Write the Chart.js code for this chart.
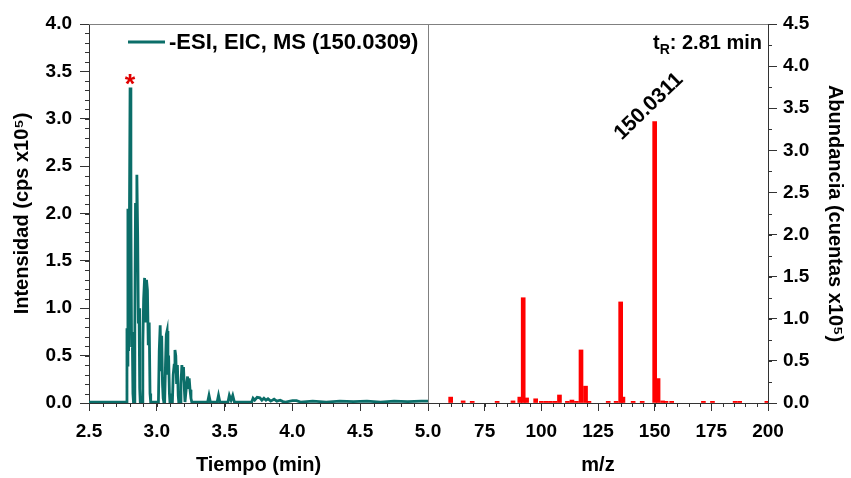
<!DOCTYPE html>
<html>
<head>
<meta charset="utf-8">
<script src="https://cdn.jsdelivr.net/npm/chart.js@4.4.0/dist/chart.umd.min.js"></script>
<style>
  html, body { margin: 0; padding: 0; background: #fff; }
  #wrap { position: relative; width: 851px; height: 478px; }
  #wrap canvas { position: absolute; left: 0; top: 0; }
</style>
</head>
<body>
<div id="wrap">
  <canvas id="ticChart" width="851" height="478"></canvas>
  <canvas id="msChart" width="851" height="478"></canvas>
</div>
<script>
// chromatogram (EIC) - retention time (min) vs intensity (cps x10^5)
const rtTime = [
  2.500, 2.600, 2.700, 2.776, 2.780, 2.784, 2.787, 2.792, 2.797, 2.803, 2.809, 2.814, 2.819, 2.824, 2.828,
  2.834, 2.838, 2.843, 2.848, 2.853, 2.859, 2.864, 2.869, 2.874, 2.878,
  2.892, 2.897, 2.903, 2.910, 2.918, 2.924, 2.931, 2.937, 2.944, 2.950, 2.955,
  3.012, 3.018, 3.025, 3.031, 3.036, 3.042, 3.047, 3.052,
  3.058, 3.064, 3.070, 3.076, 3.082, 3.087, 3.093, 3.097,
  3.115, 3.121, 3.128, 3.134, 3.140, 3.146, 3.152, 3.158, 3.162,
  3.172, 3.178, 3.185, 3.191, 3.197, 3.203, 3.208,
  3.214, 3.220, 3.227, 3.233, 3.239, 3.245, 3.252, 3.258,
  3.300, 3.375, 3.385, 3.395, 3.445, 3.455, 3.465, 3.525, 3.535, 3.548, 3.560, 3.572,
  3.700, 3.710, 3.722, 3.740, 3.760, 3.775, 3.790, 3.805, 3.820, 3.840, 3.865, 3.885, 3.910, 3.930, 3.950,
  4.000, 4.030, 4.060, 4.150, 4.250, 4.350, 4.450, 4.550, 4.650, 4.750, 4.850, 4.950, 5.000
];
const rtIntensity = [
  0.010, 0.008, 0.010, 0.010, 0.790, 0.400, 2.050, 0.550, 1.600, 3.330, 1.970, 0.590, 0.750, 0.100, 0.010,
  0.010, 0.800, 2.110, 1.500, 2.410, 1.760, 0.840, 1.000, 0.150, 0.010,
  0.010, 0.630, 1.100, 1.320, 0.850, 1.300, 1.190, 0.610, 0.850, 0.100, 0.010,
  0.010, 0.550, 0.820, 0.350, 0.710, 0.200, 0.050, 0.010,
  0.010, 0.400, 0.720, 0.760, 0.300, 0.500, 0.100, 0.010,
  0.010, 0.300, 0.400, 0.560, 0.500, 0.200, 0.400, 0.080, 0.010,
  0.010, 0.200, 0.400, 0.300, 0.380, 0.150, 0.010,
  0.010, 0.200, 0.280, 0.150, 0.260, 0.140, 0.050, 0.010,
  0.010, 0.010, 0.080, 0.010, 0.010, 0.080, 0.010, 0.010, 0.080, 0.030, 0.080, 0.010,
  0.010, 0.050, 0.030, 0.060, 0.055, 0.030, 0.050, 0.030, 0.045, 0.020, 0.040, 0.020, 0.030, 0.015, 0.010,
  0.025, 0.025, 0.010, 0.020, 0.010, 0.020, 0.015, 0.020, 0.010, 0.020, 0.015, 0.020, 0.020
];

// mass spectrum at tR - m/z vs abundance (counts x10^5)
const mzValues = [
  60, 65.5, 69.5, 80.5, 87.5, 90.5, 92, 93.5, 97.5, 100, 102, 104, 106, 108,
  111.5, 113.5, 115.5, 117.5, 119.5, 121, 129.5, 133, 135, 136, 140.5, 144.5,
  150, 151.5, 153.5, 155, 157.5, 171.5, 175.5, 185.5, 187.5, 199.5
];
const mzAbundance = [
  0.07, 0.025, 0.02, 0.02, 0.025, 0.07, 1.25, 0.06, 0.05, 0.02, 0.02, 0.02, 0.02, 0.095,
  0.02, 0.035, 0.02, 0.63, 0.20, 0.02, 0.02, 0.02, 1.20, 0.07, 0.02, 0.02,
  3.34, 0.29, 0.025, 0.02, 0.02, 0.02, 0.02, 0.02, 0.02, 0.02
];

const timeTicks = [2.5, 3.0, 3.5, 4.0, 4.5, 5.0];
const intensityTicks = [0, 0.5, 1.0, 1.5, 2.0, 2.5, 3.0, 3.5, 4.0];
const mzTicks = [50, 75, 100, 125, 150, 175, 200];
const abundanceTicks = [0, 0.5, 1.0, 1.5, 2.0, 2.5, 3.0, 3.5, 4.0, 4.5];

const FONT = '"Liberation Sans", Arial, sans-serif';
const TEAL = '#0b6e69';
const RED = '#ff0000';
const AXIS = '#333333';

function fixedTicks(list) {
  return function (scale) {
    scale.ticks = list.map(v => ({ value: v }));
  };
}

// minor tick marks drawn through the scales
const minorTicks = {
  id: 'minorTicks',
  afterDraw(chart, args, opts) {
    const ctx = chart.ctx;
    ctx.save();
    ctx.strokeStyle = AXIS;
    ctx.lineWidth = 1;
    (opts.list || []).forEach(m => {
      const s = chart.scales[m.axis];
      const n = Math.round((s.max - s.min) / m.step);
      for (let i = 0; i <= n; i++) {
        const v = s.min + i * m.step;
        const p = Math.round(s.getPixelForValue(v)) + 0.5;
        ctx.beginPath();
        if (s.position === 'bottom') {
          ctx.moveTo(p, s.top); ctx.lineTo(p, s.top + 4);
        } else if (s.position === 'left') {
          ctx.moveTo(s.right, p); ctx.lineTo(s.right - 4, p);
        } else {
          ctx.moveTo(s.left, p); ctx.lineTo(s.left + 4, p);
        }
        ctx.stroke();
      }
    });
    ctx.restore();
  }
};

// top border + divider between the two panels
const frame = {
  id: 'frame',
  afterDraw(chart, args, opts) {
    const a = chart.chartArea;
    const ctx = chart.ctx;
    ctx.save();
    ctx.strokeStyle = '#808080';
    ctx.lineWidth = 1;
    ctx.beginPath();
    ctx.moveTo(a.left, a.top + 0.5);
    ctx.lineTo(a.right, a.top + 0.5);
    if (opts.divider) {
      ctx.moveTo(a.left + 0.5, a.top);
      ctx.lineTo(a.left + 0.5, a.bottom);
    }
    ctx.stroke();
    ctx.restore();
  }
};

// asterisk over the main peak + legend inside the plot
const ticMarks = {
  id: 'ticMarks',
  afterDatasetsDraw(chart) {
    const i = rtIntensity.indexOf(Math.max(...rtIntensity));
    const x = chart.scales.x.getPixelForValue(rtTime[i]);
    const y = chart.scales.y.getPixelForValue(rtIntensity[i]);
    const a = chart.chartArea;
    const ds = chart.data.datasets[0];
    const ctx = chart.ctx;
    ctx.save();
    ctx.fillStyle = '#e00000';
    ctx.font = 'bold 27px ' + FONT;
    ctx.textAlign = 'center';
    ctx.textBaseline = 'alphabetic';
    ctx.fillText('*', x, y + 6);

    const ly = a.top + 18;
    ctx.strokeStyle = ds.borderColor;
    ctx.lineWidth = ds.borderWidth;
    ctx.beginPath();
    ctx.moveTo(a.left + 39, ly);
    ctx.lineTo(a.left + 76, ly);
    ctx.stroke();
    ctx.fillStyle = '#000';
    ctx.font = 'bold 22px ' + FONT;
    ctx.textAlign = 'left';
    ctx.textBaseline = 'middle';
    ctx.fillText(ds.label, a.left + 80, ly + 1);
    ctx.restore();
  }
};

const msLabels = {
  id: 'msLabels',
  afterDatasetsDraw(chart) {
    const ctx = chart.ctx;
    const a = chart.chartArea;
    ctx.save();
    ctx.fillStyle = '#000';
    // retention time label
    const big = 'bold 20px ' + FONT;
    const small = 'bold 14px ' + FONT;
    const rest = ': 2.81 min';
    ctx.font = big;
    const wT = ctx.measureText('t').width;
    const wRest = ctx.measureText(rest).width;
    ctx.font = small;
    const wR = ctx.measureText('R').width;
    let x = a.right - 6 - (wT + wR + wRest);
    const base = a.top + 25;
    ctx.textBaseline = 'alphabetic';
    ctx.textAlign = 'left';
    ctx.font = big;
    ctx.fillText('t', x, base);
    ctx.font = small;
    ctx.fillText('R', x + wT, base + 5);
    ctx.font = big;
    ctx.fillText(rest, x + wT + wR, base);
    // base peak label
    const i = mzAbundance.indexOf(Math.max(...mzAbundance));
    const px = chart.scales.x.getPixelForValue(mzValues[i]);
    const py = chart.scales.y.getPixelForValue(mzAbundance[i]);
    ctx.translate(px - 33, py + 19);
    ctx.rotate(-44 * Math.PI / 180);
    ctx.font = 'bold 21px ' + FONT;
    ctx.fillText('150.0311', 0, 0);
    ctx.restore();
  }
};

const tickFont = { family: FONT, size: 19, weight: 'bold' };
const titleFont = { family: FONT, size: 20, weight: 'bold' };

new Chart(document.getElementById('ticChart'), {
  type: 'line',
  data: {
    datasets: [{
      label: '-ESI, EIC, MS (150.0309)',
      data: rtTime.map((t, i) => ({ x: t, y: rtIntensity[i] })),
      borderColor: TEAL,
      backgroundColor: TEAL,
      borderWidth: 2.8,
      pointRadius: 0,
      tension: 0,
      fill: false
    }]
  },
  options: {
    responsive: false,
    animation: false,
    layout: { padding: { top: 24, right: 423, left: 0, bottom: 0 } },
    scales: {
      x: {
        type: 'linear', position: 'bottom', min: 2.5, max: 5.0,
        afterBuildTicks: fixedTicks(timeTicks),
        afterFit: s => { s.height = 75; },
        ticks: { callback: v => v.toFixed(1), font: tickFont, color: '#000', padding: 9, maxRotation: 0, autoSkip: false },
        grid: { drawOnChartArea: false, tickLength: 8, tickColor: AXIS },
        border: { color: AXIS, width: 1 },
        title: { display: true, text: 'Tiempo (min)', font: titleFont, color: '#000', padding: { top: 0, bottom: 1 } }
      },
      y: {
        type: 'linear', position: 'left', min: 0, max: 4.0,
        afterBuildTicks: fixedTicks(intensityTicks),
        afterFit: s => { s.width = 89; },
        ticks: { callback: v => v.toFixed(1), font: tickFont, color: '#000', padding: 8 },
        grid: { drawOnChartArea: false, tickLength: 9, tickColor: AXIS },
        border: { color: AXIS, width: 1 },
        title: { display: true, text: 'Intensidad (cps x10⁵)', font: titleFont, color: '#000', padding: { top: 10, bottom: 0 } }
      }
    },
    plugins: {
      legend: { display: false },
      tooltip: { enabled: false },
      minorTicks: { list: [{ axis: 'x', step: 0.1 }, { axis: 'y', step: 0.1 }] },
      frame: { divider: false }
    }
  },
  plugins: [minorTicks, frame, ticMarks]
});

new Chart(document.getElementById('msChart'), {
  type: 'bar',
  data: {
    datasets: [{
      label: 'MS',
      data: mzValues.map((m, i) => ({ x: m, y: mzAbundance[i] })),
      backgroundColor: RED,
      borderWidth: 0,
      barThickness: 4
    }]
  },
  options: {
    responsive: false,
    animation: false,
    layout: { padding: { top: 24, right: 0, left: 428, bottom: 0 } },
    scales: {
      x: {
        type: 'linear', position: 'bottom', min: 50, max: 200, offset: false,
        afterBuildTicks: fixedTicks(mzTicks),
        afterFit: s => { s.height = 75; },
        ticks: { callback: v => (v === 50 ? '' : String(v)), font: tickFont, color: '#000', padding: 9, maxRotation: 0, autoSkip: false },
        grid: { drawOnChartArea: false, offset: false, tickLength: 8, tickColor: AXIS },
        border: { color: AXIS, width: 1 },
        title: { display: true, text: 'm/z', font: titleFont, color: '#000', padding: { top: 0, bottom: 1 } }
      },
      y: {
        type: 'linear', position: 'right', min: 0, max: 4.5,
        afterBuildTicks: fixedTicks(abundanceTicks),
        afterFit: s => { s.width = 83; },
        ticks: { callback: v => v.toFixed(1), font: tickFont, color: '#000', padding: 6 },
        grid: { drawOnChartArea: false, tickLength: 9, tickColor: AXIS },
        border: { color: AXIS, width: 1 },
        title: { display: true, text: 'Abundancia (cuentas x10⁵)', font: titleFont, color: '#000', padding: { top: 4, bottom: 0 } }
      }
    },
    plugins: {
      legend: { display: false },
      tooltip: { enabled: false },
      minorTicks: { list: [{ axis: 'x', step: 5 }, { axis: 'y', step: 0.25 }] },
      frame: { divider: true }
    }
  },
  plugins: [minorTicks, frame, msLabels]
});
</script>
</body>
</html>
